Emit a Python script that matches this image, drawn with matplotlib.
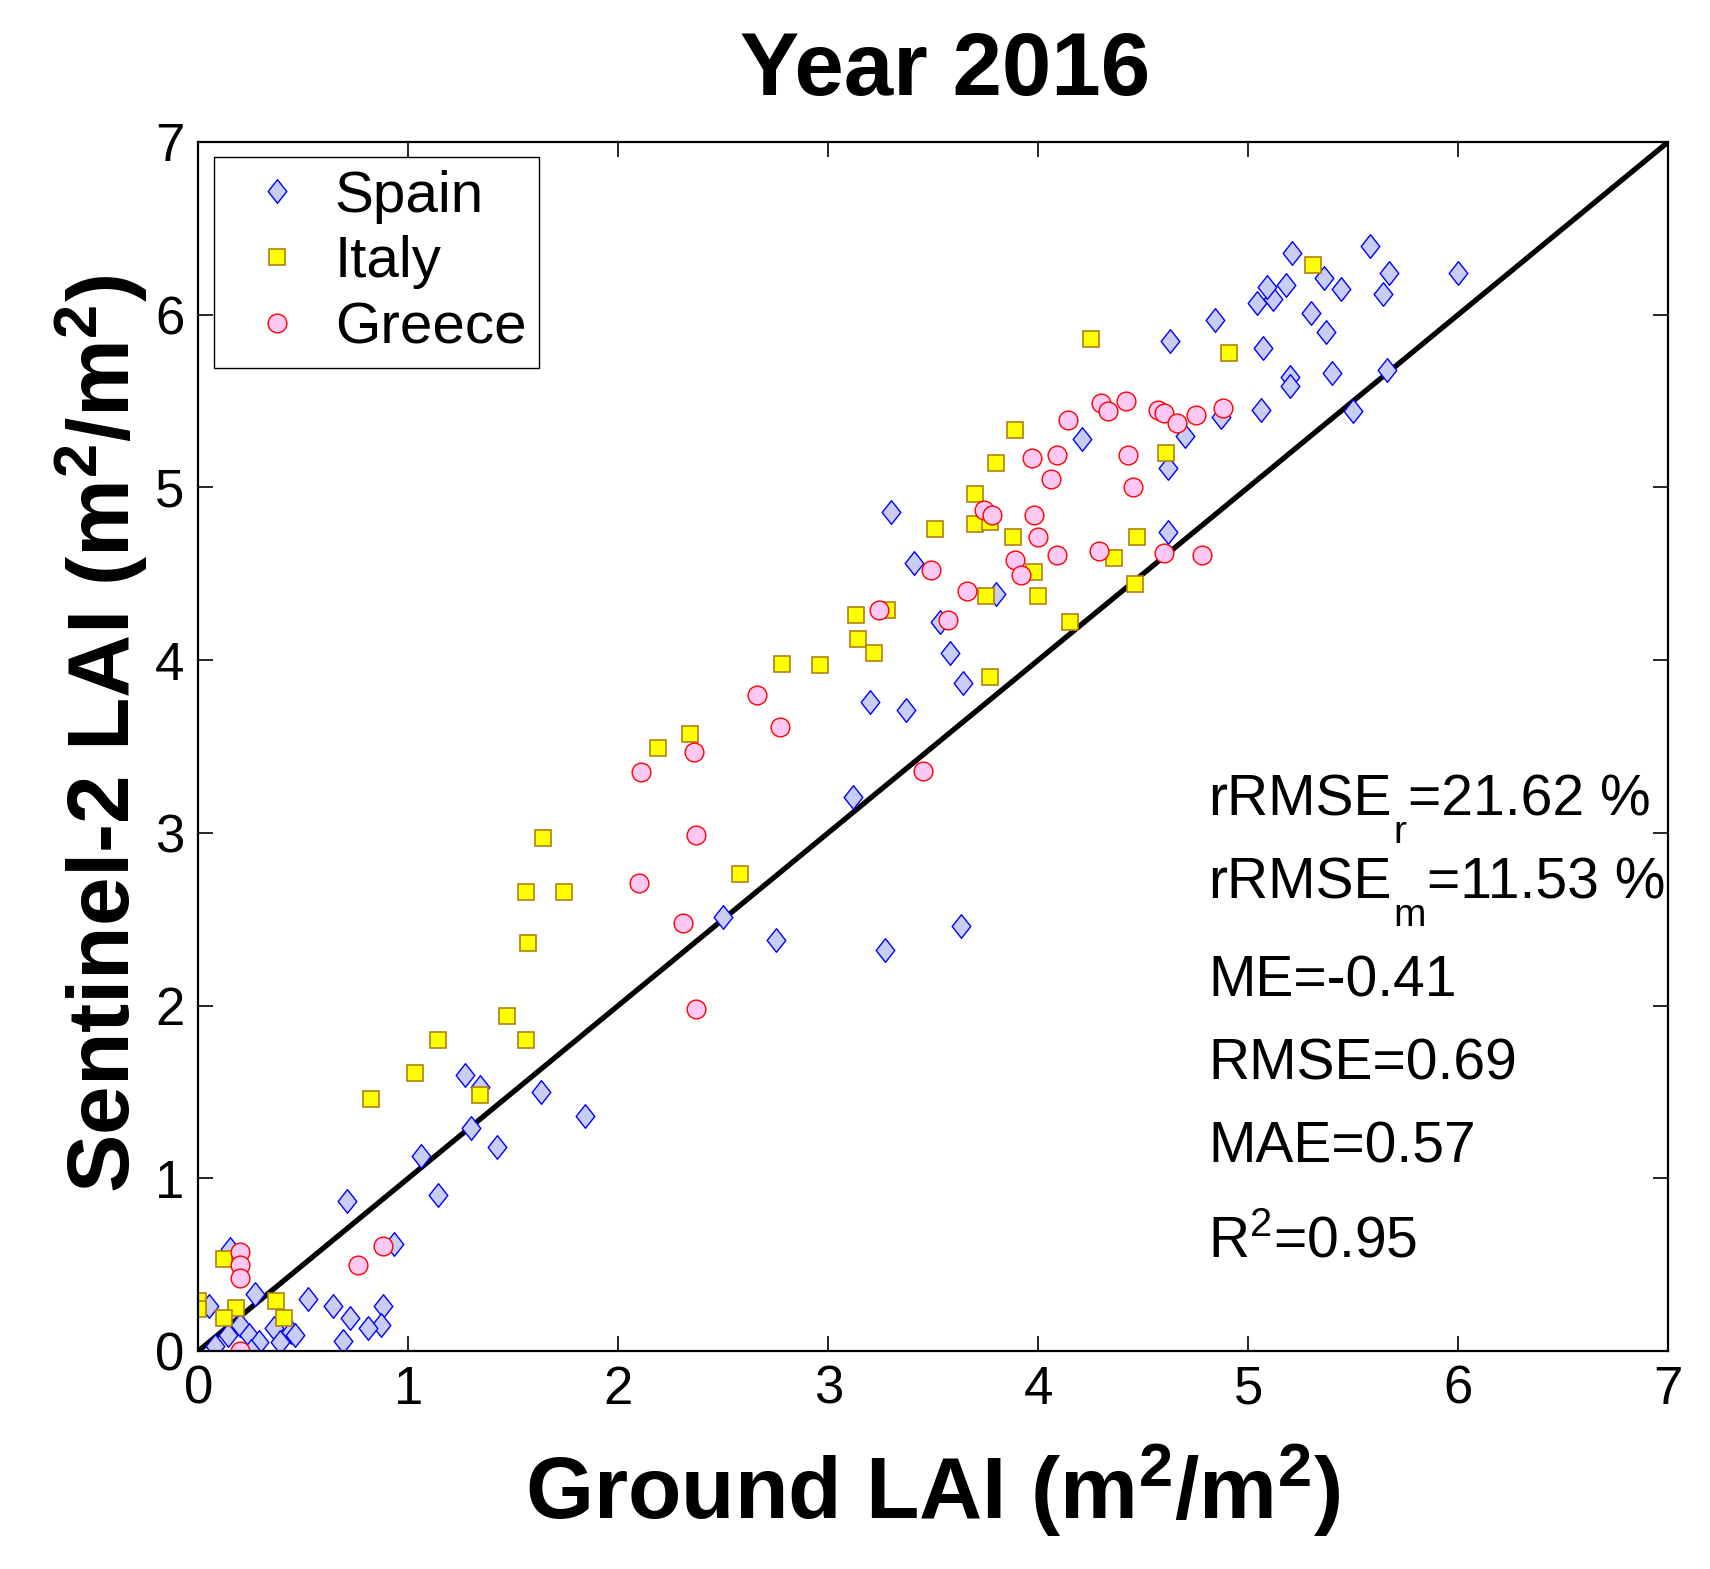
import numpy as np
import matplotlib
matplotlib.use('Agg')
import matplotlib.pyplot as plt
from matplotlib.path import Path

plt.rcParams['font.family'] = ['Liberation Sans', 'DejaVu Sans']
plt.rcParams['mathtext.fontset'] = 'custom'
plt.rcParams['mathtext.rm'] = 'Liberation Sans'
plt.rcParams['mathtext.it'] = 'Liberation Sans:italic'
plt.rcParams['mathtext.bf'] = 'Liberation Sans:bold'

# ground LAI (x) vs Sentinel-2 LAI (y)
spain_x = [0.15, 0.27, 0.05, 0.52, 0.64, 0.88, 0.72, 0.87, 0.81, 0.69, 0.36, 0.44, 0.46, 0.39,
           0.20, 0.24, 0.29, 0.14, 0.08, 0.25, 0.71, 0.93, 1.14, 1.06, 1.42, 1.30, 1.27, 1.34,
           1.63, 1.84, 2.50, 2.75, 3.27, 3.63, 3.12, 3.20, 3.37, 3.64, 3.58, 3.53, 3.80, 3.41,
           3.30, 4.62, 4.62, 4.21, 4.70, 4.87, 5.06, 5.50, 5.66, 5.40, 5.20, 5.20, 5.07, 4.63,
           4.84, 5.30, 5.37, 5.04, 5.12, 5.09, 5.18, 5.21, 5.36, 5.44, 5.58, 5.67, 5.64, 6.00]
spain_y = [0.59, 0.33, 0.26, 0.30, 0.26, 0.26, 0.19, 0.15, 0.13, 0.06, 0.13, 0.11, 0.09, 0.05,
           0.15, 0.09, 0.05, 0.09, 0.03, 0.00, 0.87, 0.62, 0.90, 1.13, 1.18, 1.29, 1.60, 1.53,
           1.50, 1.36, 2.51, 2.38, 2.32, 2.46, 3.21, 3.76, 3.71, 3.87, 4.04, 4.22, 4.38, 4.56,
           4.86, 4.74, 5.11, 5.28, 5.30, 5.41, 5.45, 5.44, 5.68, 5.66, 5.64, 5.59, 5.81, 5.85,
           5.97, 6.01, 5.90, 6.07, 6.09, 6.16, 6.17, 6.36, 6.21, 6.15, 6.40, 6.24, 6.12, 6.24]

italy_x = [0.00, 0.00, 0.12, 0.18, 0.12, 0.37, 0.41, 0.82, 1.03, 1.34, 1.14, 1.47, 1.56, 1.57,
           1.56, 1.74, 1.64, 2.19, 2.34, 2.58, 2.78, 2.96, 3.13, 3.28, 3.14, 3.22, 3.77, 4.15,
           3.75, 4.00, 3.98, 4.46, 4.36, 4.47, 3.88, 3.51, 3.70, 3.77, 3.70, 3.80, 3.89, 4.61,
           4.25, 4.91, 5.31]
italy_y = [0.29, 0.24, 0.53, 0.25, 0.19, 0.29, 0.19, 1.46, 1.61, 1.48, 1.80, 1.94, 1.80, 2.36,
           2.66, 2.66, 2.97, 3.49, 3.57, 2.76, 3.98, 3.97, 4.26, 4.29, 4.12, 4.04, 3.90, 4.22,
           4.37, 4.37, 4.51, 4.44, 4.59, 4.71, 4.71, 4.76, 4.79, 4.80, 4.96, 5.14, 5.33, 5.20,
           5.86, 5.78, 6.29]

greece_x = [0.20, 0.20, 0.20, 0.20, 0.76, 0.88, 2.37, 2.31, 2.10, 2.37, 2.11, 2.36, 2.77, 2.66,
            3.45, 3.24, 3.57, 3.66, 3.49, 3.89, 3.92, 4.09, 4.29, 4.60, 4.78, 4.00, 3.98, 3.74,
            3.78, 4.45, 4.06, 3.97, 4.09, 4.43, 4.14, 4.30, 4.33, 4.42, 4.57, 4.60, 4.66, 4.75,
            4.88]
greece_y = [0.57, 0.50, 0.42, 0.00, 0.50, 0.61, 1.98, 2.48, 2.71, 2.99, 3.35, 3.47, 3.61, 3.80,
            3.36, 4.29, 4.23, 4.40, 4.52, 4.58, 4.49, 4.61, 4.63, 4.62, 4.61, 4.71, 4.84, 4.87,
            4.84, 5.00, 5.05, 5.17, 5.19, 5.19, 5.39, 5.49, 5.44, 5.50, 5.45, 5.43, 5.37, 5.42,
            5.46]

ticks = [0, 1, 2, 3, 4, 5, 6, 7]
# statistics box: (main text, subscript, rest)
stats = [('rRMSE', 'r', '=21.62 %'), ('rRMSE', 'm', '=11.53 %'), ('ME=-0.41', '', ''),
         ('RMSE=0.69', '', ''), ('MAE=0.57', '', ''), (r'R$^\mathrm{2}$=0.95', '', '')]
stats_y = [3.10, 2.62, 2.05, 1.57, 1.09, 0.54]

# MATLAB-like diamond (wider than matplotlib's thin diamond)
diamond = Path([(0, 1), (0.79, 0), (0, -1), (-0.79, 0), (0, 1)],
               [Path.MOVETO, Path.LINETO, Path.LINETO, Path.LINETO, Path.CLOSEPOLY])

fig = plt.figure(figsize=(17.1, 15.69), dpi=100)
ax = fig.add_axes([0.116, 0.139, 0.8595, 0.7705])

ax.plot(spain_x, spain_y, linestyle='none', marker=diamond, markersize=17,
        markerfacecolor='#C8CDF3', markeredgecolor='#0000FF', markeredgewidth=1.0, label='Spain')
ax.plot(italy_x, italy_y, linestyle='none', marker='s', markersize=11,
        markerfacecolor='#FFFF00', markeredgecolor='#B08010', markeredgewidth=1.2, label='Italy')
ax.plot(greece_x, greece_y, linestyle='none', marker='o', markersize=13.5,
        markerfacecolor='#FFC8F2', markeredgecolor='#FF0000', markeredgewidth=1.0, label='Greece')

# 1:1 line
ax.plot([0, 7], [0, 7], color='black', linewidth=3.8, zorder=1)

ax.set_xlim(0, 7)
ax.set_ylim(0, 7)
ax.set_xticks(ticks)
ax.set_yticks(ticks)
ax.tick_params(direction='in', length=11, width=1.2, labelsize=38, top=True, right=True, pad=10)
for s in ax.spines.values():
    s.set_linewidth(1.6)

fs = 41
for (main, sub, rest), yy in zip(stats, stats_y):
    t1 = ax.text(4.81, yy, main, fontsize=fs, va='baseline', ha='left')
    if sub:
        # low, MATLAB-style subscript
        t2 = ax.annotate(sub, xy=(1, 0), xycoords=t1, xytext=(1, 9), textcoords='offset points',
                         fontsize=28, va='top', ha='left')
        ax.annotate(rest, xy=(1, 0), xycoords=(t2, t1), xytext=(1, 0), textcoords='offset points',
                    fontsize=fs, va='bottom', ha='left')

ax.set_title('Year 2016', fontsize=64, fontweight='bold', pad=34, x=0.508)
ax.set_xlabel(r'Ground LAI (m$^\mathbf{2}$/m$^\mathbf{2}$)', fontsize=63, fontweight='bold', labelpad=20)
ax.set_ylabel(r'Sentinel-2 LAI (m$^\mathbf{2}$/m$^\mathbf{2}$)', fontsize=63, fontweight='bold', labelpad=4,
              y=0.51)

leg = ax.legend(loc='upper left', bbox_to_anchor=(0.0107, 0.9876), borderaxespad=0,
                fontsize=42, fancybox=False, edgecolor='black', framealpha=1,
                handlelength=1.7, handletextpad=0.15, labelspacing=0.2, borderpad=0.22,
                numpoints=1)
leg.get_frame().set_linewidth(1.0)

fig.savefig('out.png', dpi=100)
